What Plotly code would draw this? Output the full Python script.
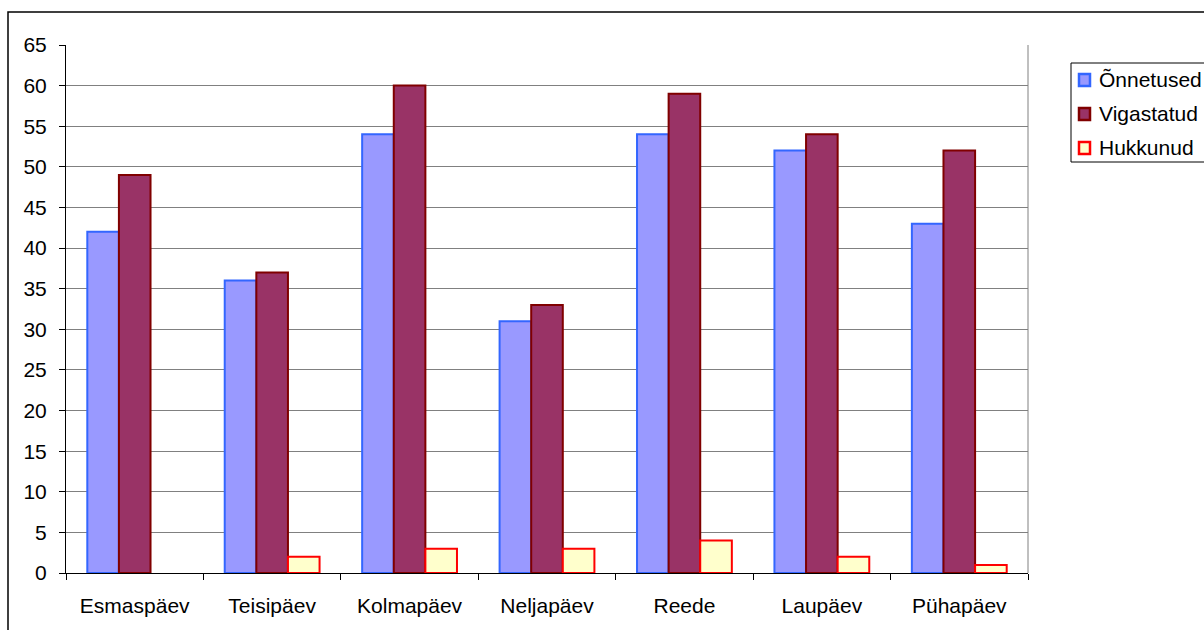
import plotly.graph_objects as go

# Weekday traffic accident statistics
days = ["Esmaspäev", "Teisipäev", "Kolmapäev", "Neljapäev", "Reede", "Laupäev", "Pühapäev"]
onnetused = [42, 36, 54, 31, 54, 52, 43]
vigastatud = [49, 37, 60, 33, 59, 54, 52]
hukkunud = [0, 2, 3, 3, 4, 2, 1]
y_ticks = list(range(0, 70, 5))

W, H = 1204, 630
L, R, T, B = 66, 176, 45, 57
pw, ph = W - L - R, H - T - B

def px_x(px):
    return (px - L) / pw

def px_y(py):
    return (H - B - py) / ph

FONT = "Liberation Sans, Arial, sans-serif"
FS = 21

series = [
    ("Õnnetused", onnetused, "#9999FF", "#3366FF"),
    ("Vigastatud", vigastatud, "#993366", "#800000"),
    ("Hukkunud", hukkunud, "#FFFFCC", "#FF0000"),
]

fig = go.Figure()
for name, vals, fill, edge in series:
    # empty bars get no outline
    widths = [2 if v else 0 for v in vals]
    fig.add_trace(go.Bar(
        x=days, y=vals, name=name,
        marker=dict(color=fill, line=dict(color=edge, width=widths)),
        showlegend=False,
    ))

shapes = [
    # plot area frame (right edge)
    dict(type="line", xref="paper", yref="paper", x0=1, x1=1, y0=0, y1=1,
         line=dict(color="#808080", width=1), layer="below"),
    # chart outer frame
    dict(type="rect", xref="paper", yref="paper",
         x0=px_x(8), x1=px_x(1215), y0=px_y(12), y1=px_y(645),
         line=dict(color="black", width=1.5), fillcolor="rgba(0,0,0,0)"),
    # legend box
    dict(type="rect", xref="paper", yref="paper",
         x0=px_x(1071), x1=px_x(1215), y0=px_y(63), y1=px_y(162),
         line=dict(color="black", width=1), fillcolor="white"),
]
annotations = []

# legend entries: swatch + label
for i, (name, vals, fill, edge) in enumerate(series):
    cy = 80 + i * 34
    shapes.append(dict(
        type="rect", xref="paper", yref="paper",
        x0=px_x(1079), x1=px_x(1090), y0=px_y(cy - 6), y1=px_y(cy + 6),
        line=dict(color=edge, width=2.5), fillcolor=fill,
    ))
    annotations.append(dict(
        xref="paper", yref="paper", x=px_x(1097), y=px_y(cy - 1),
        xanchor="left", yanchor="middle", showarrow=False,
        text=name, font=dict(family=FONT, size=FS, color="black"),
    ))

fig.update_layout(
    width=W, height=H,
    margin=dict(l=L, r=R, t=T, b=B, autoexpand=False),
    paper_bgcolor="white", plot_bgcolor="white",
    barmode="group", bargap=0.31, bargroupgap=0,
    font=dict(family=FONT, size=FS, color="black"),
    showlegend=False,
    xaxis=dict(
        showline=True, linecolor="black", linewidth=1,
        ticks="outside", tickson="boundaries", ticklen=6, tickcolor="black",
        showgrid=False, ticklabelstandoff=14,
    ),
    yaxis=dict(
        range=[0, 65], tickvals=y_ticks,
        showline=True, linecolor="black", linewidth=1,
        ticks="outside", ticklen=6, tickcolor="black",
        showgrid=True, gridcolor="#808080", gridwidth=1,
        zeroline=False, ticklabelstandoff=8,
    ),
    shapes=shapes,
    annotations=annotations,
)

fig.write_html("out.html")
